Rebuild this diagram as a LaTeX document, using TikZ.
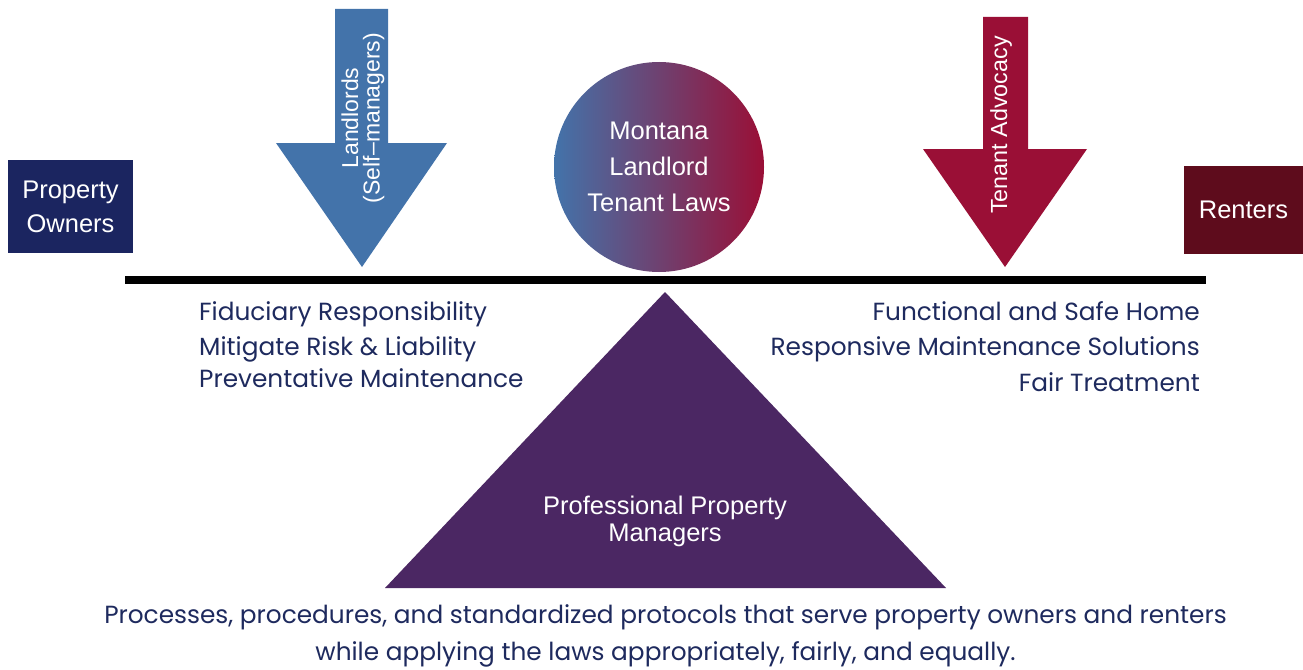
\documentclass[tikz,border=0pt]{standalone}
\usepackage{fontspec}
\setmainfont{Poppins}
\newfontfamily\arialfont{Liberation Sans}
\usetikzlibrary{calc}

\definecolor{ownerblue}{HTML}{1B2560}
\definecolor{renterred}{HTML}{5E0C1C}
\definecolor{lordblue}{HTML}{4373AA}
\definecolor{tenantred}{HTML}{9A0F36}
\definecolor{pmpurple}{HTML}{4B2763}
\definecolor{listnavy}{HTML}{1E2A5E}

\tikzset{
    sidebox/.style={text=white, font=\arialfont\fontsize{25.5}{36}\selectfont, align=center, inner sep=0pt},
    shapetext/.style={text=white, font=\arialfont\fontsize{25.5}{36}\selectfont, align=center},
    listtext/.style={text=listnavy, font=\fontsize{24.8}{35}\selectfont, inner sep=0pt},
}

\begin{document}
\begin{tikzpicture}[x=1pt, y=-1pt]

    \useasboundingbox[fill=white] (0,0) rectangle (1303,669);

    \pgfmathsetmacro\beamy{280}
    % arrow: shaft left, shaft right, shaft top, head left, head right, head top, tip
    \newcommand{\downarr}[8]{
        \fill[#8] (#1,#3) -- (#2,#3) -- (#2,#6) -- (#5,#6)
            -- (#7,\beamy-13) -- (#4,#6) -- (#1,#6) -- cycle;
    }

    % side boxes
    \fill[ownerblue] (8,160) rectangle (133,253);
    \node[sidebox] (owners) at (70.5,206.5) {Property\\[-2pt]Owners};
    \fill[renterred] (1184,166) rectangle (1303,254);
    \node[sidebox] (renters) at (1243.5,210) {Renters};

    % arrows
    \downarr{335}{388}{9}{276}{447}{143}{362}{lordblue}
    \node[shapetext, rotate=90, font=\arialfont\fontsize{23}{21.5}\selectfont]
        (landlords) at (363,118) {Landlords\\(Self–managers)};
    \downarr{983}{1028}{17}{923}{1087}{149}{1005}{tenantred}
    \node[shapetext, rotate=90, font=\arialfont\fontsize{23.3}{24}\selectfont]
        (advocacy) at (1001,125) {Tenant Advocacy};

    % laws
    \node[circle, minimum size=210pt, inner sep=0pt, left color=lordblue, right color=tenantred,
        shapetext] (laws) at (659,167) {Montana\\Landlord\\Tenant Laws};

    % beam and fulcrum
    \coordinate (beamL) at (125,\beamy);
    \coordinate (beamR) at (1206,\beamy);
    \draw[line width=8pt] (beamL) -- (beamR);
    \fill[pmpurple] (665,292) -- (946,588) -- (385,588) -- cycle;
    \node[shapetext, font=\arialfont\fontsize{25.5}{27}\selectfont] (managers) at (665,521)
        {Professional Property\\Managers};

    % duties
    \node[listtext, anchor=base west] (fiduciary) at (199,320) {Fiduciary Responsibility};
    \node[listtext, anchor=base west] (risk) at (199,355) {Mitigate Risk \& Liability};
    \node[listtext, anchor=base west] (upkeep) at (199,387) {Preventative Maintenance};
    \node[listtext, anchor=base east] (home) at (1200,320) {Functional and Safe Home};
    \node[listtext, anchor=base east] (repairs) at (1200,355) {Responsive Maintenance Solutions};
    \node[listtext, anchor=base east] (fair) at (1200,391) {Fair Treatment};

    \node[listtext, anchor=base] (processes) at (665.5,623)
        {Processes, procedures, and standardized protocols that serve property owners and renters};
    \node[listtext, anchor=base] (applying) at (665.5,660)
        {while applying the laws appropriately, fairly, and equally.};

\end{tikzpicture}
\end{document}
